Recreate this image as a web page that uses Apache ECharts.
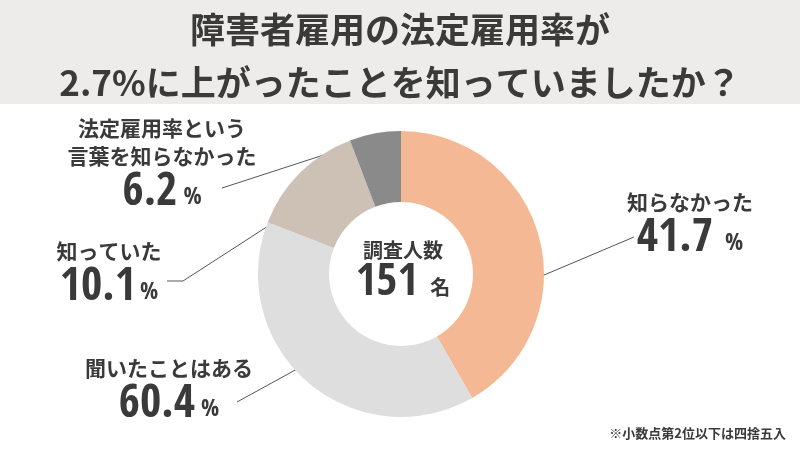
<!DOCTYPE html>
<html>
<head>
<meta charset="utf-8">
<script src="https://cdn.jsdelivr.net/npm/echarts@6/dist/echarts.min.js"></script>
<style>
  html, body { margin: 0; padding: 0; background: #fff; }
  #chart { width: 800px; height: 450px; }
</style>
</head>
<body>
<div id="chart"></div>
<script>
// 回答の並び（上から時計回り）
const answers = ['知らなかった', '聞いたことはある', '知っていた', '法定雇用率という\n言葉を知らなかった'];
// 扇の大きさ（図から読み取った角度）
const sliceShares = [41.7, 39.2, 13.3, 5.8];
// ラベルに書かれている数値
const shownPercents = ['41.7', '60.4', '10.1', '6.2'];
const sliceColors = ['#F4B994', '#DEDEDE', '#CDC1B5', '#8A8A8A'];
const respondents = 151;

const jpFont = '"Noto Sans CJK JP", "Noto Sans", sans-serif';
const numFont = '"Open Sans Condensed", "Roboto Condensed", sans-serif';
const textColor = '#3a3a3a';

// ラベルの置き場所と引き出し線
const labelSpots = [
    { x: 690, y: 225, line: [[537, 278], [634, 237]], gap: 12 },
    { x: 169, y: 391, line: [[308, 363], [237, 402]], gap: 6 },
    { x: 109, y: 274, line: [[296, 208], [183, 281], [167, 281]], gap: 4 },
    { x: 162, y: 165, line: [[376, 138], [222, 188]], gap: 6 }
];

function pctStyle(gap) {
    return { fontFamily: numFont, fontWeight: 'bold', fontSize: 24, lineHeight: 24, color: textColor, padding: [10, 0, 0, gap] };
}

const chart = echarts.init(document.getElementById('chart'));

const option = {
    animation: false,
    backgroundColor: '#ffffff',
    graphic: {
        elements: [
            { type: 'rect', z: -100, shape: { x: 0, y: 0, width: 800, height: 104 }, style: { fill: '#EDECEA' } }
        ]
    },
    title: [
        {
            text: '障害者雇用の法定雇用率が\n2.7%に上がったことを知っていましたか？',
            left: 'center',
            top: 3,
            padding: 0,
            textStyle: { fontFamily: jpFont, fontWeight: 'bold', fontSize: 35, lineHeight: 53, color: textColor }
        },
        {
            text: '{a|調査人数}\n{b|' + respondents + '}{c|名}',
            left: 403,
            top: 237,
            padding: 0,
            textAlign: 'center',
            textStyle: {
                rich: {
                    a: { fontFamily: jpFont, fontWeight: 'bold', fontSize: 20, lineHeight: 26, color: textColor, align: 'center' },
                    b: { fontFamily: numFont, fontWeight: 'bold', fontSize: 45, lineHeight: 40, color: textColor },
                    c: { fontFamily: jpFont, fontWeight: 'bold', fontSize: 20, lineHeight: 20, color: textColor, padding: [9, 0, 0, 12] }
                }
            }
        },
        {
            text: '※小数点第2位以下は四捨五入',
            right: 14,
            top: 427,
            padding: 0,
            textStyle: { fontFamily: jpFont, fontWeight: 'bold', fontSize: 13, color: textColor }
        }
    ],
    series: [
        {
            type: 'pie',
            center: [401, 274],
            radius: [72, 143],
            startAngle: 90,
            clockwise: true,
            avoidLabelOverlap: false,
            silent: true,
            emphasis: { disabled: true },
            data: answers.map((name, i) => ({ name: name, value: sliceShares[i], itemStyle: { color: sliceColors[i] } })),
            label: {
                show: true,
                position: 'outside',
                formatter: function (p) {
                    const lines = answers[p.dataIndex].split('\n').map(s => '{t|' + s + '}');
                    const g = labelSpots[p.dataIndex].gap;
                    return lines.join('\n') + '\n{v|' + shownPercents[p.dataIndex] + '}{p' + g + '|%}';
                },
                rich: {
                    t: { fontFamily: jpFont, fontWeight: 'bold', fontSize: 21, lineHeight: 28, color: textColor, align: 'center' },
                    v: { fontFamily: numFont, fontWeight: 'bold', fontSize: 46, lineHeight: 46, color: textColor },
                    p12: pctStyle(12),
                    p6: pctStyle(6),
                    p4: pctStyle(4)
                }
            },
            labelLine: {
                show: true,
                length: 10,
                length2: 10,
                lineStyle: { color: '#555555', width: 1 }
            },
            labelLayout: function (params) {
                const spot = labelSpots[params.dataIndex];
                return {
                    x: spot.x,
                    y: spot.y,
                    align: 'center',
                    verticalAlign: 'middle',
                    labelLinePoints: spot.line
                };
            }
        }
    ]
};

chart.setOption(option);
</script>
</body>
</html>
